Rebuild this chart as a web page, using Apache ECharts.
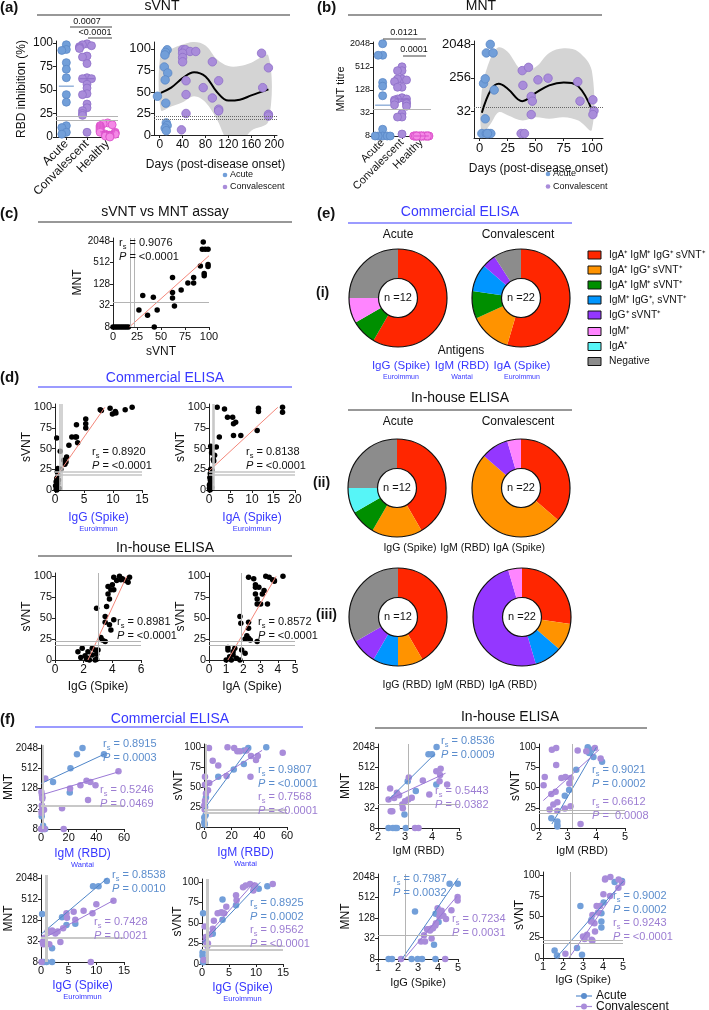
<!DOCTYPE html>
<html>
<head>
<meta charset="utf-8">
<script src="https://cdn.jsdelivr.net/npm/echarts@6/dist/echarts.min.js"></script>
<style>
  html, body { margin: 0; padding: 0; background: #fff; }
  #chart { width: 709px; height: 1010px; }
</style>
</head>
<body>
<div id="chart"></div>
<script>
// ---------- data ----------
const groups = ['Acute', 'Convalescent', 'Healthy'];

// (a) sVNT % inhibition per group
const aAcute = [98, 93, 92, 79, 72, 63, 45, 37, 12, 10, 5, 3];
const aConv = [99, 98, 97, 96, 95, 94, 86, 85, 78, 63, 62, 62, 56, 52, 46, 45, 35, 31, 28, 25, 23, 5];
const aHealthy = [15, 14, 13, 12, 11, 10, 9, 8, 7, 6, 5, 5, 4, 3, 3, 2, 2, 1, 1, 0];
// (a) sVNT against days post onset
const aAcuteDays = [13, 10, 9, 8, 14, 9.5, -4, 10.6, 11.5, 13, 9.5, 11.5];
const aAcuteDaySvnt = [99, 96, 93, 79, 72, 64, 45, 37, 14, 11, 8, 5];
const aConvDays = [40, 45, 53, 63, 40, 40, 40, 92, 76, 92, 46, 46, 46, 38, 103, 103, 103, 178, 190, 180, 190, 190];
const aConvDaySvnt = [99, 99, 97, 97, 95, 90, 85, 85, 55, 43, 63, 47, 25, 6, 63, 30, 28, 95, 78, 55, 24, 22];
const aCurveDays = [2, 20, 40, 60, 80, 100, 120, 140, 160, 190];
const aCurveMean = [49, 55, 66, 73, 68, 50, 40, 41, 46, 53];
const aBandUpper = [96, 100, 105, 108, 104, 88, 80, 80, 84, 92];
const aBandLower = [29, 33, 38, 45, 38, 18, -8, -10, 5, 16];

// (b) MNT titres per group
const bAcute = [2048, 1024, 1024, 200, 160, 90, 12, 8, 8, 8, 8, 8];
const bConv = [512, 405, 405, 246, 246, 232, 210, 150, 150, 80, 74, 74, 70, 64, 60, 56, 52, 48, 31, 25, 25, 9];
const bHealthy = [8, 8, 8, 8, 8, 8, 8, 8, 8, 8, 8, 8, 8, 8, 8, 8, 8, 8, 8, 8];
// (b) MNT against days post onset
const bAcuteDays = [9.5, 6, 12, 3.5, 5, 13, 5, 2, 6, 8, 10, 7];
const bAcuteDayMnt = [2048, 1200, 1200, 180, 240, 120, 20, 8, 8, 8, 8, 8];
const bConvDays = [38, 43.6, 38.6, 52, 61, 87.5, 46, 47, 46, 89.5, 101, 102, 101, 37, 40];
const bConvDayMnt = [400, 490, 160, 225, 250, 200, 80, 60, 26, 60, 65, 33, 26, 8, 8];
const bCurveDays = [2, 10, 17, 25, 38, 50, 62, 75, 88, 100];
const bCurveMean = [29, 120, 176, 130, 60, 100, 160, 192, 150, 35];
const bBandUpper = [120, 900, 1700, 1300, 400, 500, 1200, 1600, 1300, 400];
const bBandLower = [8, 15, 30, 25, 18, 22, 20, 22, 18, 10];

// (c) sVNT vs MNT
const cSvnt = [0, 2, 4, 6, 8, 10, 12, 14, 16, 43, 27, 31, 36, 42, 46, 62, 62, 62, 64, 71, 78, 84, 84, 91, 93, 96, 94, 99, 95, 95, 99, 99];
const cMnt = [8, 8, 8, 8, 8, 8, 8, 8, 8, 8, 24, 61, 17, 55, 24, 195, 75, 52, 31, 88, 137, 195, 137, 415, 1216, 1216, 1950, 1216, 256, 220, 457, 400];
const cFitX = [17, 100];
const cFitY = [8, 800];

// cut-offs
const svntCuts = [22, 18];
const mntCut = 40;

// (d) commercial ELISA
const dComIgG = [0.3, 0.5, 0.9, 0.4, 1.0, 0.1, 0.2, 0.3, 0.4, 0.5, 0.6, 0.2, 0.3, 0.7, 0.5, 1.5, 2.0, 1.9, 1.7, 2.4, 2.9, 3.5, 3.7, 3.9, 3.7, 5.3, 5.3, 5.3, 7.8, 9.5, 10.4, 12.1, 13.3, 9.9, 10.5, 8.0];
const dComIgGSvnt = [63, 26, 47, 22, 25, 5, 10, 14, 3, 8, 12, 1, 0, 2, 18, 36, 40, 34, 31, 54, 64, 64, 79, 57, 64, 86, 80, 75, 97, 99, 95, 97, 100, 92, 93, 96];
const dComIgGFitX = [0, 8.6];
const dComIgGFitY = [14, 100];
const dComIgA = [0.1, 0.2, 0.3, 0.4, 0.5, 0.2, 0.3, 0.6, 0.1, 0.4, 0.3, 0.2, 0.4, 0.6, 0.7, 1.0, 1.1, 1.3, 0.4, 0.3, 0.7, 1.7, 2.4, 4.3, 5.5, 5.7, 6.2, 5.7, 7.4, 1.9, 3.6, 11.5, 11.5, 17.1, 17.1, 11.2];
const dComIgASvnt = [2, 5, 8, 11, 14, 0, 1, 3, 6, 9, 12, 15, 53, 45, 50, 37, 35, 42, 25, 20, 24, 52, 64, 88, 88, 80, 82, 66, 66, 100, 98, 99, 95, 100, 94, 72];
const dComIgAFitX = [0, 16];
const dComIgAFitY = [23, 100];
const dComCuts = [0.8, 1.1];
// (d) in-house ELISA
const dInIgG = [2.9, 3.7, 3.8, 4.1, 3.9, 3.6, 3.5, 3.5, 3.8, 4.1, 3.9, 3.2, 3.3, 3.5, 4.0, 4.6, 4.3, 3.7, 4.1, 4.5, 4.7, 4.9, 5.2, 5.1, 1.6, 1.8, 1.9, 2.3, 2.3, 2.6, 2.8, 2.9, 2.9, 2.2, 2.4, 2.1, 2.8, 2.6, 3.0];
const dInIgGSvnt = [62, 79, 73, 84, 84, 64, 52, 45, 42, 48, 36, 27, 24, 22, 90, 96, 95, 88, 99, 100, 97, 95, 99, 93, 10, 3, 14, 10, 2, 6, 12, 7, 1, 1, 0, 5, 0, 14, 12];
const dInIgGFitX = [2.3, 5.0];
const dInIgGFitY = [0, 100];
const dInIgGCut = 3.0;
const dInIgA = [1.8, 1.85, 2.3, 2.3, 2.2, 2.3, 2.4, 2.8, 2.1, 2.8, 2.7, 2.9, 2.7, 3.1, 2.8, 3.0, 3.2, 3.4, 3.7, 3.8, 2.3, 2.6, 2.7, 3.3, 3.5, 3.8, 4.3, 1.0, 1.1, 1.2, 1.4, 1.1, 1.4, 1.6, 1.8, 1.9, 1.3, 1.5, 2.1];
const dInIgASvnt = [52, 44, 45, 38, 29, 26, 24, 22, 25, 73, 87, 87, 79, 79, 67, 67, 83, 67, 96, 94, 99, 97, 90, 100, 99, 95, 100, 0, 12, 4, 6, 15, 10, 2, 0, 12, 0, 14, 8];
const dInIgAFitX = [1.1, 3.9];
const dInIgAFitY = [0, 100];
const dInIgACut = 1.85;

// (e) antibody profile counts
const profileNames = ['IgA\u207A IgM\u207A IgG\u207A sVNT\u207A', 'IgA\u207A IgG\u207A sVNT\u207A', 'IgA\u207A IgM\u207A sVNT\u207A',
  'IgM\u207A IgG\u207A, sVNT\u207A', 'IgG\u207A sVNT\u207A', 'IgM\u207A', 'IgA\u207A', 'Negative'];
const eComAcute = [7, 0, 1, 0, 0, 1, 0, 3];
const eComConv = [12, 3, 2, 2, 1, 0, 0, 2];
const eInAcute = [5, 2, 1, 0, 0, 0, 1, 3];
const eInConv = [8, 11, 0, 0, 2, 1, 0, 0];
const eRbdAcute = [5, 1, 0, 1, 1, 0, 0, 4];
const eRbdConv = [6, 2, 0, 2, 11, 1, 0, 0];

// (f) commercial: MNT vs IgM (RBD)
const f1AcuteX = [0.5, 1.5, 1.0, 8.7, 20.8, 21.3, 26, 30, 45.5, 0.8, 1.2, 3.0];
const f1AcuteY = [19, 10, 8, 200, 98, 512, 1330, 2048, 1330, 8, 8, 8];
const f1ConvX = [0.2, 0.7, 0.9, 3.1, 0.5, 1.2, 2.2, 15.2, 16.4, 32.9, 35.7, 39.4, 56, 34, 0.3, 0.1, 1.0, 0.4, 28.5, 21, 0.6, 2.5];
const f1ConvY = [8, 82, 64, 256, 28, 30, 30, 33, 8, 217, 200, 160, 420, 58, 100, 8, 70, 24, 160, 128, 40, 8];
const f1AcuteFitX = [0, 45.5], f1AcuteFitY = [180, 1330];
const f1ConvFitX = [0, 56], f1ConvFitY = [82, 400];
// (f) commercial: sVNT vs IgM (RBD)
const f2AcuteX = [0.2, 0.2, 1.2, 1.4, 0.5, 10.3, 21.5, 28.8, 29, 32, 45, 0.8];
const f2AcuteY = [6, 12, 15, 37, 3, 63, 72, 79, 96, 99, 100, 25];
const f2ConvX = [0.7, 1.4, 0.7, 3.8, 2.9, 0.7, 0.2, 10.3, 16.3, 33.6, 37.6, 3.6, 17, 21.8, 24.1, 26, 30.7, 34, 38.9, 56.9, 6.3, 0.5];
const f2ConvY = [63, 42, 53, 55, 46, 33, 27, 77, 64, 63, 84, 99, 100, 99, 95, 95, 96, 89, 89, 93, 83, 22];
const f2AcuteFitX = [0, 33], f2AcuteFitY = [22, 100];
const f2ConvFitX = [0, 42], f2ConvFitY = [50, 96];
// (f) commercial: MNT vs IgG (Spike)
const f3AcuteX = [0.2, 3.8, 6.2, 9.4, 10.4, 11.9, 0.2, 2.0, 2.0, 4.6, 0.5, 1.0];
const f3AcuteY = [190, 153, 100, 1200, 1200, 1700, 8, 8, 20, 92, 8, 8];
const f3ConvX = [0.4, 0.9, 1.7, 2.6, 3.5, 4.0, 4.6, 4.7, 5.9, 7.7, 9.3, 10.0, 13.1, 9.0, 0.1, 6.2, 1.2, 0.6, 3.0, 2.0, 0.3, 1.5];
const f3ConvY = [26, 26, 59, 53, 30, 74, 200, 149, 221, 237, 200, 367, 458, 8, 8, 130, 60, 40, 60, 64, 30, 26];
const f3AcuteFitX = [0, 12], f3AcuteFitY = [50, 2048];
const f3ConvFitX = [0, 13.1], f3ConvFitY = [35, 470];
// (f) commercial: sVNT vs IgG (Spike)
const f4AcuteX = [0.2, 0.1, 0.1, 0.3, 0.2, 3.8, 3.8, 6.3, 9.6, 10.5, 12.1, 2.0];
const f4AcuteY = [62, 14, 10, 5, 2, 79, 54, 72, 95, 92, 95, 37];
const f4ConvX = [0.5, 0.7, 0.3, 0.7, 1.1, 1.4, 2.0, 2.2, 2.9, 3.5, 3.7, 4.1, 4.5, 6.3, 6.4, 7.6, 8.1, 8.9, 9.5, 9.8, 13.1, 1.0];
const f4ConvY = [46, 33, 5, 27, 25, 36, 43, 53, 62, 63, 63, 62, 70, 84, 78, 94, 96, 98, 90, 96, 98, 22];
const f4AcuteFitX = [0, 10.8], f4AcuteFitY = [25, 100];
const f4ConvFitX = [0, 9.7], f4ConvFitY = [28, 100];
// (f) in-house: MNT vs IgM (RBD)
const f5AcuteX = [2.39, 2.64, 2.7, 3.03, 2.98, 3.1, 3.4, 4.16, 4.17, 3.87, 4.0, 2.55];
const f5AcuteY = [8, 8, 8, 8, 20, 197, 100, 158, 2048, 1250, 1250, 8];
const f5ConvX = [3.14, 3.66, 4.16, 4.32, 4.28, 4.56, 2.39, 2.6, 2.78, 3.12, 2.92, 2.47, 2.53, 3.37, 3.5, 2.45, 3.9, 4.3, 2.9, 3.25, 2.7, 3.0];
const f5ConvY = [256, 207, 390, 465, 197, 158, 56, 62, 76, 56, 31, 25, 25, 8, 8, 120, 80, 300, 40, 64, 90, 50];
const f5AcuteFitX = [2.4, 4.1], f5AcuteFitY = [56, 1260];
const f5ConvFitX = [2.4, 4.5], f5ConvFitY = [56, 340];
const f5Cut = 3.12;
// (f) in-house: sVNT vs IgM (RBD)
const f6AcuteX = [2.43, 2.64, 2.64, 2.64, 2.9, 3.05, 3.3, 3.7, 3.8, 3.75, 4.2, 3.9];
const f6AcuteY = [12, 8, 4, 2, 40, 47, 72, 100, 97, 93, 82, 88];
const f6ConvX = [2.16, 2.43, 2.58, 2.78, 2.92, 3.1, 3.06, 2.6, 2.5, 2.64, 2.37, 2.64, 2.9, 3.1, 3.45, 2.2, 2.45, 2.6, 3.35, 3.65, 3.95, 4.15];
const f6ConvY = [53, 42, 45, 62, 63, 62, 55, 78, 29, 32, 23, 21, 24, 27, 5, 63, 97, 99, 96, 95, 99, 86];
const f6AcuteFitX = [2.45, 4.0], f6AcuteFitY = [5, 100];
const f6ConvFitX = [2.15, 4.1], f6ConvFitY = [34, 97];
const f6Cut = 3.15;
// (f) in-house: MNT vs IgG (Spike)
const f7AcuteX = [1.53, 1.7, 2.68, 2.98, 3.87, 3.8, 2.85, 3.88, 4.03, 4.58, 4.99, 3.2];
const f7AcuteY = [8, 8, 8, 8, 8, 21, 200, 170, 98, 1300, 1300, 8];
const f7ConvX = [2.15, 4.36, 3.15, 3.35, 3.68, 3.56, 3.68, 3.87, 4.07, 3.98, 4.18, 4.27, 4.67, 4.98, 4.98, 3.75, 3.45, 4.1, 3.6, 3.9, 4.4, 3.3];
const f7ConvY = [8, 8, 26, 26, 32, 60, 63, 77, 142, 250, 210, 150, 215, 530, 420, 64, 60, 180, 55, 90, 120, 40];
const f7AcuteFitX = [2.2, 5.0], f7AcuteFitY = [8, 1900];
const f7ConvFitX = [2.3, 4.95], f7ConvFitY = [8, 560];
const f7Cut = 2.35;
// (f) in-house: sVNT vs IgG (Spike)
const f8AcuteX = [1.58, 1.7, 2.7, 2.95, 2.87, 3.92, 3.42, 3.92, 3.92, 4.03, 4.58, 4.95];
const f8AcuteY = [9, 3, 12, 4, 63, 54, 46, 44, 37, 67, 92, 93];
const f8ConvX = [2.12, 3.0, 3.08, 3.43, 3.47, 3.4, 3.47, 3.57, 3.6, 3.68, 3.85, 4.02, 4.1, 4.35, 4.77, 4.95, 5.03, 4.12, 4.37, 4.78, 3.2, 3.75];
const f8ConvY = [5, 26, 23, 22, 21, 44, 52, 42, 32, 63, 63, 77, 95, 75, 85, 91, 95, 96, 98, 95, 28, 55];
const f8AcuteFitX = [1.65, 5.03], f8AcuteFitY = [0, 93];
const f8ConvFitX = [2.3, 5.03], f8ConvFitY = [0, 95];
const f8Cut = 2.35;

// ---------- style ----------
const FONT = '"Liberation Sans", Arial, Helvetica, sans-serif';
const BLUE_TXT = '#3838ff';
const ACUTE = '#729fd9', CONV = '#a98cda', HEALTHY = '#f489e6';
const ACUTE_TXT = '#5b8dcd', CONV_TXT = '#9c7dd2';
const GUIDE = '#b4b4b4';
const DONUT_COLORS = ['#ff2600', '#ff9300', '#008f00', '#0096ff', '#9437ff', '#ff85ff', '#56f5f7', '#8c8c8c'];

const log2 = v => Math.log2(v);
const pow2 = v => String(Math.round(Math.pow(2, v)));
const zip = (xs, ys, logY) => xs.map((x, i) => [x, logY ? log2(ys[i]) : ys[i]]);
function median(a) {
  const s = a.slice().sort((x, y) => x - y), n = s.length;
  return n % 2 ? s[(n - 1) / 2] : (s[n / 2 - 1] + s[n / 2]) / 2;
}
function spread(vals, tol) {
  const seq = [0, -4.5, 4.5, -7.5, 7.5, -2.2, 2.2, -6, 6];
  return vals.map((v, i) => {
    let k = 0;
    for (let j = 0; j < i; j++) if (Math.abs(vals[j] - v) < tol) k++;
    return seq[k % seq.length];
  });
}

// grid boxes (px)
const boxes = [
  [56, 41, 62, 96],    // 0 a dot plot
  [154, 42, 123, 93],  // 1 a days
  [373, 42, 58, 94],   // 2 b dot plot
  [474, 41, 129, 97],  // 3 b days
  [113, 238, 96, 89],  // 4 c
  [55, 404, 87, 86],   // 5 d commercial IgG
  [209, 404, 86, 86],  // 6 d commercial IgA
  [55, 573, 86, 87],   // 7 d in-house IgG
  [209, 573, 86, 87],  // 8 d in-house IgA
  [41, 745, 83, 84],   // 9  f1
  [204, 744, 83, 83],  // 10 f2
  [41, 875, 83, 87],   // 11 f3
  [202, 879, 81, 85],  // 12 f4
  [378, 744, 81, 84],  // 13 f5
  [539, 744, 86, 84],  // 14 f6
  [378, 874, 80, 85],  // 15 f7
  [543, 872, 80, 86]   // 16 f8
];
const grid = boxes.map(b => ({ left: b[0], top: b[1], width: b[2], height: b[3], containLabel: false, outerBoundsMode: 'none' }));

function axis(gi, o) {
  const isY = o.dim === 'y';
  return {
    type: o.type || 'value', gridIndex: gi, min: o.min, max: o.max, data: o.data,
    boundaryGap: o.type === 'category' ? true : false,
    name: o.name || '', nameLocation: 'middle', nameGap: o.gap || 20, nameRotate: isY ? 90 : 0,
    nameMoveOverlap: false,
    nameTextStyle: Object.assign({ fontFamily: FONT, fontSize: o.nameSize || 12, color: '#111' }, o.nameStyle || {}),
    axisLine: { show: true, onZero: false, lineStyle: { color: '#222', width: 1 } },
    axisTick: o.type === 'category'
      ? { show: true, length: 3, alignWithLabel: true, lineStyle: { color: '#222' } }
      : { show: true, length: 3, customValues: o.ticks, lineStyle: { color: '#222' } },
    axisLabel: {
      fontFamily: FONT, fontSize: o.size || 10, color: '#111', margin: o.margin || 3,
      customValues: o.type === 'category' ? undefined : o.ticks,
      formatter: o.fmt, rotate: o.rotate || 0, interval: 0
    },
    splitLine: { show: false }
  };
}
const sv = [0, 25, 50, 75, 100];
const lg = [3, 5, 7, 9, 11];
const blueName = (a, b) => ({
  name: '{a|' + a + '}\n{b|' + b + '}',
  nameStyle: { rich: { a: { fontFamily: FONT, fontSize: 12, color: BLUE_TXT, lineHeight: 13 }, b: { fontFamily: FONT, fontSize: 7.5, color: BLUE_TXT, lineHeight: 10 } } }
});

const xAxes = [], yAxes = [];
function axes(gi, xo, yo) { xAxes.push(axis(gi, Object.assign({ dim: 'x' }, xo))); yAxes.push(axis(gi, Object.assign({ dim: 'y' }, yo))); }

axes(0, { type: 'category', data: groups, rotate: 45, size: 12, margin: 5 },
  { min: 0, max: 102, ticks: sv, size: 12, name: 'RBD inhibition (%)', gap: 28, nameSize: 12 });
axes(1, { min: -10, max: 205, ticks: [0, 40, 80, 120, 160, 200], size: 12, margin: 4, name: 'Days (post-disease onset)', gap: 24, nameSize: 12 },
  { min: 0, max: 108, ticks: sv, size: 13 });
axes(2, { type: 'category', data: groups, rotate: 45, size: 11, margin: 5 },
  { min: 3, max: 11.15, ticks: lg, fmt: pow2, size: 9, name: 'MNT titre', gap: 27, nameSize: 11 });
axes(3, { min: -5, max: 110, ticks: [0, 25, 50, 75, 100], size: 13, margin: 4, name: 'Days (post-disease onset)', gap: 25, nameSize: 12 },
  { min: 2.6, max: 11.3, ticks: [5, 8, 11], fmt: pow2, size: 13 });
axes(4, { min: 0, max: 100, ticks: sv, size: 11, margin: 4, name: 'sVNT', gap: 19, nameSize: 12 },
  { min: 3, max: 11.3, ticks: lg, fmt: pow2, size: 10, name: 'MNT', gap: 29, nameSize: 12 });
axes(5, Object.assign({ min: 0, max: 15, ticks: [0, 5, 10, 15], size: 12, margin: 4, gap: 21 }, blueName('IgG (Spike)', 'Euroimmun')),
  { min: 0, max: 104, ticks: sv, size: 11, name: 'sVNT', gap: 22 });
axes(6, Object.assign({ min: 0, max: 20, ticks: [0, 5, 10, 15, 20], size: 12, margin: 4, gap: 21 }, blueName('IgA (Spike)', 'Euroimmun')),
  { min: 0, max: 104, ticks: sv, size: 11, name: 'sVNT', gap: 22 });
axes(7, { min: 0, max: 6, ticks: [0, 2, 4, 6], size: 12, margin: 4, name: 'IgG (Spike)', gap: 21 },
  { min: 0, max: 104, ticks: sv, size: 11, name: 'sVNT', gap: 22 });
axes(8, { min: 0, max: 5, ticks: [0, 1, 2, 3, 4, 5], size: 12, margin: 4, name: 'IgA (Spike)', gap: 21 },
  { min: 0, max: 104, ticks: sv, size: 11, name: 'sVNT', gap: 22 });
axes(9, Object.assign({ min: 0, max: 60, ticks: [0, 20, 40, 60], size: 11, margin: 3, gap: 18 }, blueName('IgM (RBD)', 'Wantai')),
  { min: 3, max: 11.3, ticks: lg, fmt: pow2, size: 10, name: 'MNT', gap: 26 });
axes(10, Object.assign({ min: 0, max: 60, ticks: [0, 20, 40, 60], size: 11, margin: 3, gap: 19 }, blueName('IgM (RBD)', 'Wantai')),
  { min: 0, max: 104, ticks: sv, size: 10, name: 'sVNT', gap: 19 });
axes(11, Object.assign({ min: 0, max: 15, ticks: [0, 5, 10, 15], size: 11, margin: 3, gap: 17 }, blueName('IgG (Spike)', 'Euroimmun')),
  { min: 3, max: 11.3, ticks: lg, fmt: pow2, size: 10, name: 'MNT', gap: 26 });
axes(12, Object.assign({ min: 0, max: 15, ticks: [0, 5, 10, 15], size: 11, margin: 3, gap: 17 }, blueName('IgG (Spike)', 'Euroimmun')),
  { min: 0, max: 104, ticks: sv, size: 10, name: 'sVNT', gap: 18 });
axes(13, { min: 2, max: 5, ticks: [2, 3, 4, 5], size: 11, margin: 3, name: 'IgM (RBD)', gap: 17, nameSize: 11 },
  { min: 3, max: 11.3, ticks: lg, fmt: pow2, size: 10, name: 'MNT', gap: 26 });
axes(14, { min: 2, max: 5, ticks: [2, 3, 4, 5], size: 11, margin: 3, name: 'IgM (RBD)', gap: 17, nameSize: 11 },
  { min: 0, max: 104, ticks: sv, size: 10, name: 'sVNT', gap: 17 });
axes(15, { min: 1, max: 5, ticks: [1, 2, 3, 4, 5], size: 11, margin: 3, name: 'IgG (Spike)', gap: 18, nameSize: 11 },
  { min: 3, max: 11.3, ticks: lg, fmt: pow2, size: 10, name: 'MNT', gap: 26 });
axes(16, { min: 1, max: 5, ticks: [1, 2, 3, 4, 5], size: 11, margin: 3, name: 'IgG (Spike)', gap: 16, nameSize: 11 },
  { min: 0, max: 104, ticks: sv, size: 10, name: 'sVNT', gap: 17 });

// ---------- series ----------
const series = [];
const base = gi => ({ xAxisIndex: gi, yAxisIndex: gi, silent: true, animation: false });
function scatter(gi, data, color, size, border) {
  series.push(Object.assign(base(gi), {
    type: 'scatter', data, symbolSize: size, z: 3,
    itemStyle: { color, opacity: 1, borderColor: border || 'rgba(0,0,0,0)', borderWidth: border ? 0.8 : 0 }
  }));
}
function fit(gi, xs, ys, color, logY) {
  series.push(Object.assign(base(gi), {
    type: 'line', data: zip(xs, ys, logY), symbol: 'none', z: 4,
    lineStyle: { color, width: 1 }
  }));
}
function guides(gi, h, v, style) {
  const data = (h || []).map(y => ({ yAxis: y })).concat((v || []).map(x => ({ xAxis: x })));
  series.push(Object.assign(base(gi), {
    type: 'line', data: [], z: 1,
    markLine: {
      silent: true, symbol: 'none', label: { show: false }, animation: false,
      lineStyle: Object.assign({ color: GUIDE, width: 1, type: 'solid' }, style || {}), data
    }
  }));
}
// confidence band: closed smooth polygon (upper edge then lower edge back), clipped to the grid
function band(gi, xs, lo, hi, logY) {
  const f = logY ? log2 : (v => v);
  const ring = xs.map((x, i) => [x, f(hi[i])]).concat(xs.map((x, i) => [x, f(lo[i])]).reverse());
  series.push(Object.assign(base(gi), {
    type: 'custom', z: 0, data: [ring[0]],
    renderItem: (params, api) => {
      const cs = params.coordSys;
      return {
        type: 'polygon',
        shape: { points: ring.map(p => api.coord(p)), smooth: 0.35 },
        style: { fill: '#d4d4d4' },
        clipPath: { type: 'rect', shape: { x: cs.x, y: cs.y, width: cs.width, height: cs.height } }
      };
    }
  }));
}
function curve(gi, xs, ys, logY) {
  series.push(Object.assign(base(gi), {
    type: 'line', smooth: 0.4, symbol: 'none', z: 2,
    data: zip(xs, ys, logY), lineStyle: { color: '#000', width: 2 }
  }));
}
function dotGroup(gi, g, vals, color, border, logY) {
  const tv = vals.map(v => logY ? log2(v) : v);
  const off = spread(tv, logY ? 0.3 : 3.5);
  scatter(gi, tv.map((v, i) => ({ value: [g, v], symbolOffset: [off[i], 0] })), color, 8, border);
  const m = median(vals);
  series.push(Object.assign(base(gi), {
    type: 'scatter', z: 5, symbol: 'rect', symbolSize: [15, 1.2],
    data: [[g, logY ? log2(m) : m]], itemStyle: { color: border || color }
  }));
}

// (a)
guides(0, svntCuts);
dotGroup(0, 'Acute', aAcute, ACUTE, '#5a88c6');
dotGroup(0, 'Convalescent', aConv, CONV, '#8e6fc8');
dotGroup(0, 'Healthy', aHealthy, HEALTHY, '#d94bc8');
band(1, aCurveDays, aBandLower, aBandUpper);
guides(1, svntCuts, null, { color: '#666', type: 'dotted' });
curve(1, aCurveDays, aCurveMean);
scatter(1, zip(aAcuteDays, aAcuteDaySvnt), ACUTE, 8.5, '#5a88c6');
scatter(1, zip(aConvDays, aConvDaySvnt), CONV, 8.5, '#8e6fc8');
// (b)
guides(2, [log2(mntCut)]);
dotGroup(2, 'Acute', bAcute, ACUTE, '#5a88c6', true);
dotGroup(2, 'Convalescent', bConv, CONV, '#8e6fc8', true);
dotGroup(2, 'Healthy', bHealthy, HEALTHY, '#d94bc8', true);
band(3, bCurveDays, bBandLower, bBandUpper, true);
guides(3, [log2(mntCut)], null, { color: '#666', type: 'dotted' });
curve(3, bCurveDays, bCurveMean, true);
scatter(3, zip(bAcuteDays, bAcuteDayMnt, true), ACUTE, 8.5, '#5a88c6');
scatter(3, zip(bConvDays, bConvDayMnt, true), CONV, 8.5, '#8e6fc8');
// (c)
guides(4, [log2(mntCut)], [18, 22]);
scatter(4, zip(cSvnt, cMnt, true), '#000', 5.5);
fit(4, cFitX, cFitY, '#f4877a', true);
// (d)
const RED = '#f4877a';
guides(5, svntCuts, dComCuts, { width: 1.5, color: '#c4c4c4' });
scatter(5, zip(dComIgG, dComIgGSvnt), '#000', 5.5);
fit(5, dComIgGFitX, dComIgGFitY, RED);
guides(6, svntCuts, dComCuts, { width: 1.5, color: '#c4c4c4' });
scatter(6, zip(dComIgA, dComIgASvnt), '#000', 5.5);
fit(6, dComIgAFitX, dComIgAFitY, RED);
guides(7, svntCuts, [dInIgGCut]);
scatter(7, zip(dInIgG, dInIgGSvnt), '#000', 5.5);
fit(7, dInIgGFitX, dInIgGFitY, RED);
guides(8, svntCuts, [dInIgACut]);
scatter(8, zip(dInIgA, dInIgASvnt), '#000', 5.5);
fit(8, dInIgAFitX, dInIgAFitY, RED);
// (f)
function fPanel(gi, logY, ax, ay, cx, cy, afx, afy, cfx, cfy, vcuts, vstyle) {
  guides(gi, logY ? [log2(mntCut)] : svntCuts, vcuts, vstyle);
  scatter(gi, zip(ax, ay, logY), ACUTE, 6.5);
  scatter(gi, zip(cx, cy, logY), CONV, 6.5);
  fit(gi, afx, afy, '#4f86c9', logY);
  fit(gi, cfx, cfy, '#9b78d6', logY);
}
const comV = { width: 2, color: '#c8c8c8' };
fPanel(9, true, f1AcuteX, f1AcuteY, f1ConvX, f1ConvY, f1AcuteFitX, f1AcuteFitY, f1ConvFitX, f1ConvFitY, [1.5], comV);
fPanel(10, false, f2AcuteX, f2AcuteY, f2ConvX, f2ConvY, f2AcuteFitX, f2AcuteFitY, f2ConvFitX, f2ConvFitY, [1.5], comV);
fPanel(11, true, f3AcuteX, f3AcuteY, f3ConvX, f3ConvY, f3AcuteFitX, f3AcuteFitY, f3ConvFitX, f3ConvFitY, dComCuts, comV);
fPanel(12, false, f4AcuteX, f4AcuteY, f4ConvX, f4ConvY, f4AcuteFitX, f4AcuteFitY, f4ConvFitX, f4ConvFitY, dComCuts, comV);
fPanel(13, true, f5AcuteX, f5AcuteY, f5ConvX, f5ConvY, f5AcuteFitX, f5AcuteFitY, f5ConvFitX, f5ConvFitY, [f5Cut]);
fPanel(14, false, f6AcuteX, f6AcuteY, f6ConvX, f6ConvY, f6AcuteFitX, f6AcuteFitY, f6ConvFitX, f6ConvFitY, [f6Cut]);
fPanel(15, true, f7AcuteX, f7AcuteY, f7ConvX, f7ConvY, f7AcuteFitX, f7AcuteFitY, f7ConvFitX, f7ConvFitY, [f7Cut]);
fPanel(16, false, f8AcuteX, f8AcuteY, f8ConvX, f8ConvY, f8AcuteFitX, f8AcuteFitY, f8ConvFitX, f8ConvFitY, [f8Cut]);

// (e) donuts
const donuts = [
  [eComAcute, 398, 298, 'n =12'], [eComConv, 521, 298, 'n =22'],
  [eInAcute, 397, 488, 'n =12'], [eInConv, 521, 488, 'n =22'],
  [eRbdAcute, 398, 617, 'n =12'], [eRbdConv, 522, 617, 'n =22']
];
const R_IN = 19.5, R_OUT = 49;
donuts.forEach(d => {
  series.push({
    type: 'pie', silent: true, animation: false, center: [d[1], d[2]], radius: [R_IN, R_OUT],
    startAngle: 90, clockwise: true, label: { show: false }, labelLine: { show: false },
    avoidLabelOverlap: false, itemStyle: { borderWidth: 0 },
    data: profileNames.map((n, i) => ({ name: n, value: d[0][i], itemStyle: { color: DONUT_COLORS[i] } }))
  });
});

// ---------- annotations ----------
const G = [];
function t(x, y, text, o) {
  G.push({ type: 'text', x, y, silent: true, z: 10,
    style: Object.assign({ text, fontFamily: FONT, fontSize: 11, fill: '#111', align: 'center', verticalAlign: 'middle' }, o || {}) });
}
function ln(x1, y1, x2, y2, color, w) {
  G.push({ type: 'line', silent: true, z: 10, shape: { x1, y1, x2, y2 }, style: { stroke: color || '#222', lineWidth: w || 1 } });
}
function stat(x, y, rs, p, color, size) {
  const fs = size || 11;
  G.push({ type: 'text', x, y, silent: true, z: 10, style: {
    text: '{a|r}{s|s}{a| = ' + rs + '}', verticalAlign: 'middle', align: 'left',
    rich: { a: { fontFamily: FONT, fontSize: fs, fill: color, lineHeight: fs + 2, verticalAlign: 'top' },
            s: { fontFamily: FONT, fontSize: fs - 3.5, fill: color, lineHeight: fs - 3, verticalAlign: 'bottom' } } } });
  G.push({ type: 'text', x, y: y + fs + 1.5, silent: true, z: 10, style: {
    text: '{i|P}{a| = ' + p + '}', verticalAlign: 'middle', align: 'left',
    rich: { i: { fontFamily: FONT, fontSize: fs, fill: color, fontStyle: 'italic' },
            a: { fontFamily: FONT, fontSize: fs, fill: color } } } });
}
const bold = { fontWeight: 'bold', fontSize: 15, align: 'left' };

// panel letters
t(0, 8, '(a)', bold); t(317, 8, '(b)', bold); t(0, 214, '(c)', bold); t(317, 214, '(e)', bold);
t(0, 378, '(d)', bold); t(0, 720, '(f)', bold);
t(316, 293, '(i)', Object.assign({}, bold, { fontSize: 14 }));
t(313, 483, '(ii)', Object.assign({}, bold, { fontSize: 14 }));
t(316, 615, '(iii)', Object.assign({}, bold, { fontSize: 14 }));

// titles + rules
t(162, 6, 'sVNT', { fontSize: 14 }); ln(37, 15, 290, 15, '#333', 1.2);
t(481, 6, 'MNT', { fontSize: 14 }); ln(348, 15, 602, 15, '#333', 1.2);
t(165, 212, 'sVNT vs MNT assay', { fontSize: 14 }); ln(38, 222, 292, 222, '#333', 1.2);
t(460, 212, 'Commercial ELISA', { fontSize: 14, fill: BLUE_TXT }); ln(348, 223, 572, 223, BLUE_TXT, 1.2);
t(165, 378, 'Commercial ELISA', { fontSize: 14, fill: BLUE_TXT }); ln(38, 387, 292, 387, BLUE_TXT, 1.2);
t(165, 548, 'In-house ELISA', { fontSize: 14 }); ln(38, 556, 292, 556, '#333', 1.2);
t(460, 398, 'In-house ELISA', { fontSize: 14 }); ln(348, 410, 572, 410, '#333', 1.2);
t(170, 719, 'Commercial ELISA', { fontSize: 14, fill: BLUE_TXT }); ln(35, 727, 303, 727, BLUE_TXT, 1.2);
t(510, 717, 'In-house ELISA', { fontSize: 14 }); ln(375, 728, 647, 728, '#333', 1.2);

// significance bars
t(87, 22, '0.0007', { fontSize: 9 }); ln(70, 27, 112, 27, '#444', 1);
t(95, 33, '<0.0001', { fontSize: 9 }); ln(88, 38, 112, 38, '#444', 1);
t(404, 33, '0.0121', { fontSize: 9 }); ln(383, 39, 426, 39, '#444', 1);
t(414, 50, '0.0001', { fontSize: 9 }); ln(403, 56, 426, 56, '#444', 1);

// small legends under (a) and (b)
[[225, 175, ACUTE, 'Acute'], [225, 187, CONV, 'Convalescent'], [548, 174, ACUTE, 'Acute'], [548, 186.5, CONV, 'Convalescent']].forEach(l => {
  G.push({ type: 'circle', silent: true, z: 10, shape: { cx: l[0], cy: l[1], r: 2.3 }, style: { fill: l[2] } });
  t(l[0] + 5, l[1], l[3], { fontSize: 9, align: 'left' });
});

// donut labels
t(398, 235, 'Acute', { fontSize: 12 }); t(518, 235, 'Convalescent', { fontSize: 12 });
t(398, 422, 'Acute', { fontSize: 12 }); t(518, 422, 'Convalescent', { fontSize: 12 });
donuts.forEach(d => {
  G.push({ type: 'circle', silent: true, z: 10, shape: { cx: d[1], cy: d[2], r: R_OUT }, style: { fill: 'none', stroke: '#111', lineWidth: 1.2 } });
  G.push({ type: 'circle', silent: true, z: 10, shape: { cx: d[1], cy: d[2], r: R_IN }, style: { fill: 'none', stroke: '#111', lineWidth: 1.2 } });
  t(d[1], d[2], d[3], { fontSize: 11 });
});
t(461, 351, 'Antigens', { fontSize: 12 });
t(401, 366, 'IgG (Spike)', { fontSize: 11.5, fill: BLUE_TXT }); t(401, 377, 'Euroimmun', { fontSize: 7, fill: BLUE_TXT });
t(462, 366, 'IgM (RBD)', { fontSize: 11.5, fill: BLUE_TXT }); t(462, 377, 'Wantai', { fontSize: 7, fill: BLUE_TXT });
t(522, 366, 'IgA (Spike)', { fontSize: 11.5, fill: BLUE_TXT }); t(522, 377, 'Euroimmun', { fontSize: 7, fill: BLUE_TXT });
t(410, 548, 'IgG (Spike)', { fontSize: 10.5 }); t(465, 548, 'IgM (RBD)', { fontSize: 10.5 }); t(519, 548, 'IgA (Spike)', { fontSize: 10.5 });
t(407, 685, 'IgG (RBD)', { fontSize: 10.5 }); t(460, 685, 'IgM (RBD)', { fontSize: 10.5 }); t(513, 685, 'IgA (RBD)', { fontSize: 10.5 });

// donut legend
const legY = [255, 270, 285, 300, 315, 331.5, 346.5, 361.5];
profileNames.forEach((n, i) => {
  G.push({ type: 'rect', silent: true, z: 10, shape: { x: 588, y: legY[i] - 4, width: 13, height: 8 },
    style: { fill: DONUT_COLORS[i], stroke: '#111', lineWidth: 1 } });
  t(609, legY[i], n, { fontSize: 10.3, align: 'left' });
});

// correlation statistics
stat(119, 244, '0.9076', '<0.0001', '#111');
stat(92, 453, '0.8920', '<0.0001', '#111');
stat(246, 453, '0.8138', '<0.0001', '#111');
stat(117, 623, '0.8981', '<0.0001', '#111');
stat(258, 623, '0.8572', '<0.0001', '#111');
stat(103, 745, '0.8915', '0.0003', ACUTE_TXT); stat(100, 791, '0.5246', '0.0469', CONV_TXT);
stat(258, 771, '0.9807', '<0.0001', ACUTE_TXT); stat(258, 798, '0.7568', '<0.0001', CONV_TXT);
stat(112, 876, '0.8538', '0.0010', ACUTE_TXT); stat(94, 923, '0.7428', '0.0021', CONV_TXT);
stat(250, 904, '0.8925', '0.0002', ACUTE_TXT); stat(250, 931, '0.9562', '<0.0001', CONV_TXT);
stat(441, 742, '0.8536', '0.0009', ACUTE_TXT); stat(435, 792, '0.5443', '0.0382', CONV_TXT);
stat(592, 771, '0.9021', '0.0002', ACUTE_TXT); stat(592, 803, '0.6612', ' 0.0008', CONV_TXT);
stat(393, 880, '0.7987', '0.0032', ACUTE_TXT); stat(452, 920, '0.7234', '0.0031', CONV_TXT);
stat(613, 897, '0.9002', '0.0002', ACUTE_TXT); stat(613, 924, '0.9243', '<0.0001', CONV_TXT);

// bottom legend for (f)
[[996, '#5b8dcd', 'Acute'], [1006.5, CONV, 'Convalescent']].forEach(l => {
  ln(576, l[0], 592, l[0], l[1], 1.2);
  G.push({ type: 'circle', silent: true, z: 10, shape: { cx: 584, cy: l[0], r: 3 }, style: { fill: l[1] } });
  t(596, l[0], l[2], { fontSize: 12, align: 'left' });
});

const chart = echarts.init(document.getElementById('chart'), null, { renderer: 'canvas' });
chart.setOption({
  backgroundColor: '#fff',
  animation: false,
  textStyle: { fontFamily: FONT },
  grid, xAxis: xAxes, yAxis: yAxes, series,
  graphic: { elements: G }
});
</script>
</body>
</html>
